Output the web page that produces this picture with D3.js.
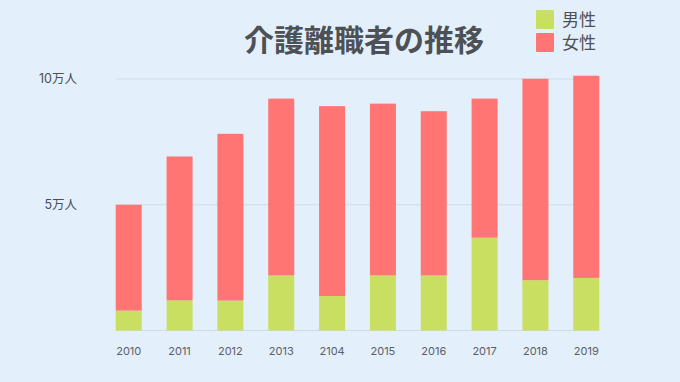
<!DOCTYPE html>
<html lang="ja">
<head>
<meta charset="utf-8">
<script src="https://cdn.jsdelivr.net/npm/d3@7"></script>
<style>
  body { margin: 0; background: #e3effb; }
  svg { display: block; font-family: 'Noto Sans CJK JP', 'Noto Sans', sans-serif; }
</style>
</head>
<body>
<div id="chart"></div>
<script>
// 介護離職者（万人）
const years = ['2010', '2011', '2012', '2013', '2104', '2015', '2016', '2017', '2018', '2019']
const male = [0.79, 1.2, 1.19, 2.19, 1.37, 2.19, 2.19, 3.69, 2.0, 2.09]
const female = [4.21, 5.72, 6.63, 7.03, 7.55, 6.83, 6.53, 5.53, 8.01, 8.04]
const yTicks = [0, 5, 10]
const yTickLabels = ['', '5万人', '10万人']
const seriesNames = ['男性', '女性']

const width = 680
const height = 382
const colors = { 男性: '#c8df62', 女性: '#fe7574' }
const labelFont = "Inter, 'Noto Sans CJK JP', sans-serif"

const rows = years.map((y, i) => ({ year: y, 男性: male[i], 女性: female[i] }))
const stacked = d3.stack().keys(seriesNames)(rows)

const svg = d3.select('#chart').append('svg')
  .attr('width', width)
  .attr('height', height)

svg.append('rect')
  .attr('width', width)
  .attr('height', height)
  .attr('fill', '#e3effb')

const x = d3.scaleBand()
  .domain(years)
  .range([102.7, 612.3])
  .paddingInner(0.488)
  .paddingOuter(0.256)

const y = d3.scaleLinear()
  .domain([0, 10])
  .range([330.5, 79])

// gridlines
svg.append('g')
  .selectAll('line')
  .data(yTicks)
  .enter().append('line')
  .attr('x1', x(years[0]))
  .attr('x2', x(years[years.length - 1]) + x.bandwidth())
  .attr('y1', d => y(d))
  .attr('y2', d => y(d))
  .attr('stroke', '#cfdbe7')
  .attr('stroke-width', 1)

// y labels
svg.append('g')
  .selectAll('text')
  .data(yTicks)
  .enter().append('text')
  .attr('x', 77)
  .attr('y', d => y(d))
  .attr('dy', '0.35em')
  .attr('text-anchor', 'end')
  .attr('font-family', labelFont)
  .attr('font-size', 12.5)
  .attr('fill', '#4a4f55')
  .text((d, i) => yTickLabels[i])

// bars
svg.append('g')
  .selectAll('g')
  .data(stacked)
  .enter().append('g')
  .attr('fill', d => colors[d.key])
  .selectAll('rect')
  .data(d => d)
  .enter().append('rect')
  .attr('x', d => x(d.data.year))
  .attr('y', d => y(d[1]))
  .attr('width', x.bandwidth())
  .attr('height', d => y(d[0]) - y(d[1]))

// x labels
svg.append('g')
  .selectAll('text')
  .data(years)
  .enter().append('text')
  .attr('x', d => x(d) + x.bandwidth() / 2)
  .attr('y', 351)
  .attr('dy', '0.35em')
  .attr('text-anchor', 'middle')
  .attr('font-family', labelFont)
  .attr('font-size', 11)
  .attr('fill', '#5a6068')
  .text(d => d)

// title
svg.append('text')
  .attr('x', 364)
  .attr('y', 40)
  .attr('dy', '0.35em')
  .attr('text-anchor', 'middle')
  .attr('font-size', 30)
  .attr('font-weight', 'bold')
  .attr('fill', '#4d5155')
  .text('介護離職者の推移')

// legend
const legend = svg.append('g')
  .selectAll('g')
  .data(seriesNames)
  .enter().append('g')
  .attr('transform', (d, i) => `translate(536,${10 + i * 23})`)

legend.append('rect')
  .attr('width', 18)
  .attr('height', 19)
  .attr('rx', 1)
  .attr('fill', d => colors[d])

legend.append('text')
  .attr('x', 26)
  .attr('y', 10)
  .attr('dy', '0.35em')
  .attr('font-size', 17)
  .attr('fill', '#4d5155')
  .text(d => d)
</script>
</body>
</html>
